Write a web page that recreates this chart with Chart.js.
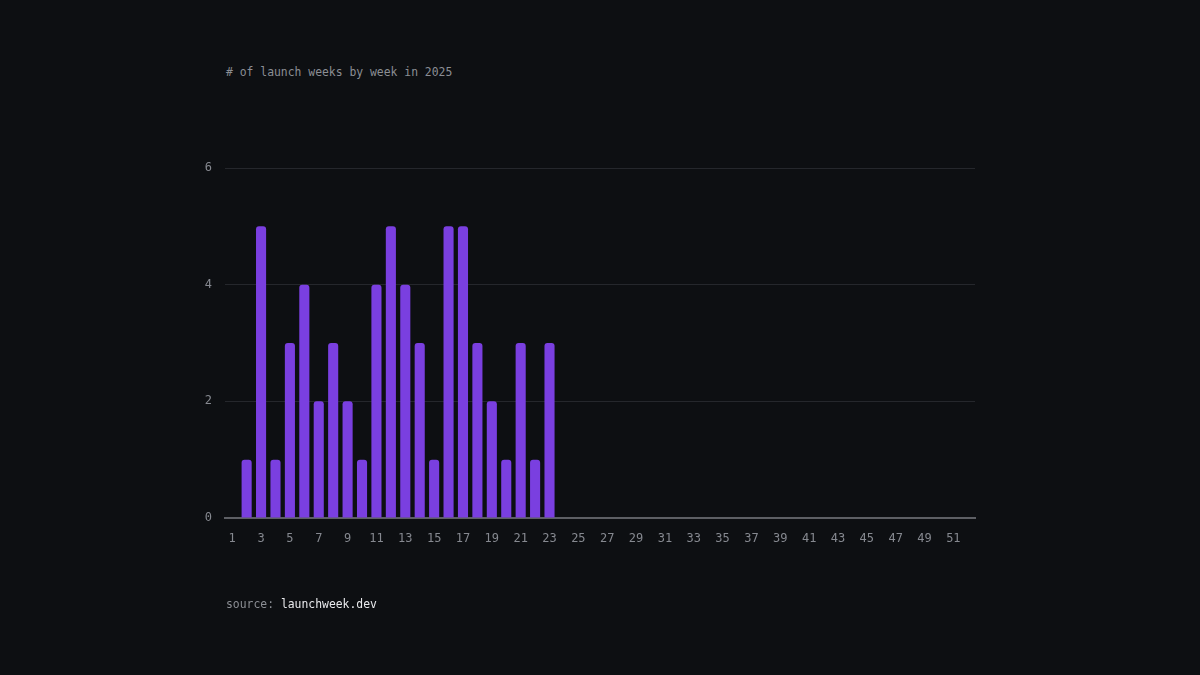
<!DOCTYPE html>
<html>
<head>
<meta charset="utf-8">
<script src="https://cdn.jsdelivr.net/npm/chart.js@4/dist/chart.umd.min.js"></script>
<style>
    html, body { margin: 0; padding: 0; background: #0d0f12; }
    #wrap { position: relative; width: 1200px; height: 675px; }
    #chart { position: absolute; left: 0; top: 0; }
    .txt { position: absolute; font-family: "DejaVu Sans Mono", monospace; font-size: 11.4px; color: #8b8e94; white-space: pre; }
    #title { left: 226px; top: 65px; }
    #source { left: 226px; top: 597px; }
    #source span { color: #e8e9ec; }
</style>
</head>
<body>
<div id="wrap">
    <div class="txt" id="title"># of launch weeks by week in 2025</div>
    <canvas id="chart" width="1200" height="675"></canvas>
    <div class="txt" id="source">source: <span>launchweek.dev</span></div>
</div>
<script>
// weeks 1..52
var weeks = [];
for (var w = 1; w <= 52; w++) { weeks.push(String(w)); }

// launch weeks per week (only up to week 23 so far)
var launchCounts = [0, 1, 5, 1, 3, 4, 2, 3, 2, 1, 4, 5, 4, 3, 1, 5, 5, 3, 2, 1, 3, 1, 3];

var yTicks = [0, 2, 4, 6];

var labelColor = '#868990';
var monoFont = { family: 'DejaVu Sans Mono', size: 12 };

var ctx = document.getElementById('chart');
var myChart = new Chart(ctx, {
    type: 'bar',
    data: {
        labels: weeks,
        datasets: [{
            label: 'launch weeks',
            data: launchCounts,
            backgroundColor: '#7a3fe0',
            borderRadius: { topLeft: 3, topRight: 3 },
            borderSkipped: 'bottom',
            barPercentage: 0.7,
            categoryPercentage: 1.0
        }]
    },
    options: {
        responsive: false,
        animation: false,
        layout: { padding: { left: 195, right: 225, top: 168, bottom: 117 } },
        plugins: {
            legend: { display: false },
            tooltip: { enabled: false }
        },
        scales: {
            x: {
                afterFit: function (scale) { scale.height = 40; },
                grid: { display: false },
                border: { color: '#5d5f64', width: 2 },
                ticks: {
                    color: labelColor,
                    font: monoFont,
                    autoSkip: false,
                    maxRotation: 0,
                    padding: 6,
                    callback: function (val, i) {
                        return i % 2 === 0 ? weeks[i] : '';
                    }
                }
            },
            y: {
                min: 0,
                max: 6,
                afterFit: function (scale) { scale.width = 30; },
                afterBuildTicks: function (scale) {
                    scale.ticks = yTicks.map(function (v) { return { value: v }; });
                },
                border: { display: false },
                grid: {
                    drawTicks: false,
                    color: function (c) {
                        return c.tick && c.tick.value === 0 ? 'rgba(0,0,0,0)' : '#25272c';
                    }
                },
                ticks: {
                    color: labelColor,
                    font: monoFont,
                    padding: 13
                }
            }
        }
    }
});
</script>
</body>
</html>
